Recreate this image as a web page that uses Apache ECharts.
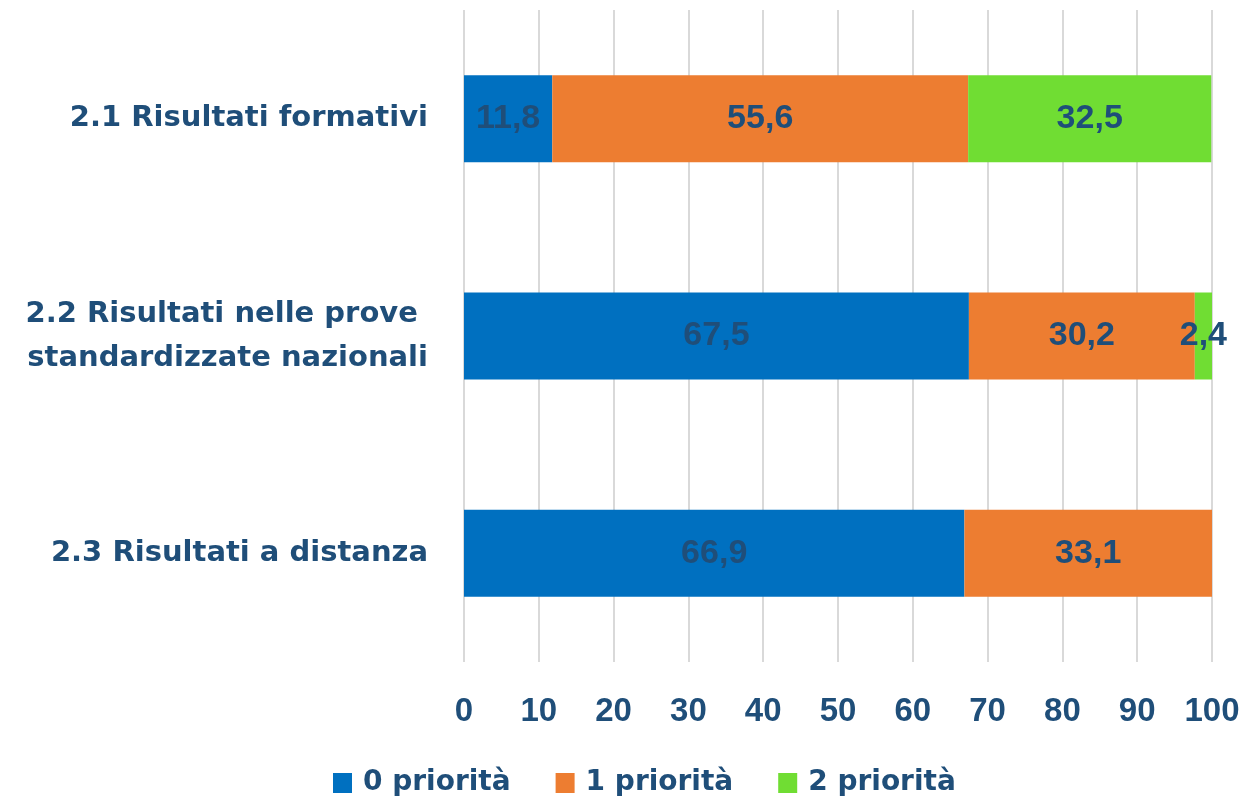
<!DOCTYPE html>
<html>
<head>
<meta charset="utf-8">
<script src="https://cdn.jsdelivr.net/npm/echarts@6/dist/echarts.min.js"></script>
<style>
  html, body { margin: 0; padding: 0; background: #fff; }
  #chart { width: 1246px; height: 797px; }
</style>
</head>
<body>
<div id="chart"></div>
<script>
// categories (top to bottom)
const categories = [
  "2.1 Risultati formativi",
  "2.2 Risultati nelle prove \nstandardizzate nazionali",
  "2.3 Risultati a distanza"
];
const seriesNames = ["0 priorità", "1 priorità", "2 priorità"];
const zeroPriority = [11.8, 67.5, 66.9];
const onePriority = [55.6, 30.2, 33.1];
const twoPriority = [32.5, 2.4, 0];
const colors = ["#0070C0", "#ED7D31", "#70DD33"];

const textColor = "#1F4E79";
const chart = echarts.init(document.getElementById("chart"));

function makeSeries(name, data, color) {
  return {
    name: name,
    type: "bar",
    stack: "total",
    barWidth: "40%",
    data: data,
    itemStyle: { color: color },
    label: {
      show: true,
      position: "inside",
      color: textColor,
      fontSize: 34,
      fontWeight: "bold",
      fontFamily: "Liberation Sans, Arial, sans-serif",
      formatter: function (p) {
        return p.value > 0 ? String(p.value).replace(".", ",") : "";
      }
    }
  };
}

chart.setOption({
  animation: false,
  color: colors,
  grid: { left: 464, right: 34, top: 10, bottom: 135 },
  legend: {
    top: 764,
    left: 328,
    itemWidth: 19,
    itemHeight: 20,
    itemGap: 45,
    icon: "rect",
    textStyle: {
      color: textColor,
      fontSize: 28,
      fontWeight: "bold",
      fontFamily: "DejaVu Sans, sans-serif",
      padding: [0, 0, 0, 6]
    },
    data: seriesNames
  },
  xAxis: {
    type: "value",
    min: 0,
    max: 100,
    interval: 10,
    axisLine: { show: false },
    axisTick: { show: false },
    splitLine: { lineStyle: { color: "#D9D9D9", width: 2 } },
    axisLabel: {
      margin: 33,
      color: textColor,
      fontSize: 33,
      fontWeight: "bold",
      fontFamily: "Liberation Sans, Arial, sans-serif"
    }
  },
  yAxis: {
    type: "category",
    inverse: true,
    data: categories,
    axisLine: { show: false },
    axisTick: { show: false },
    axisLabel: {
      margin: 36,
      color: textColor,
      fontSize: 29,
      fontWeight: "bold",
      lineHeight: 44,
      align: "right",
      fontFamily: "DejaVu Sans, sans-serif"
    }
  },
  series: [
    makeSeries(seriesNames[0], zeroPriority, colors[0]),
    makeSeries(seriesNames[1], onePriority, colors[1]),
    makeSeries(seriesNames[2], twoPriority, colors[2])
  ]
});
</script>
</body>
</html>
